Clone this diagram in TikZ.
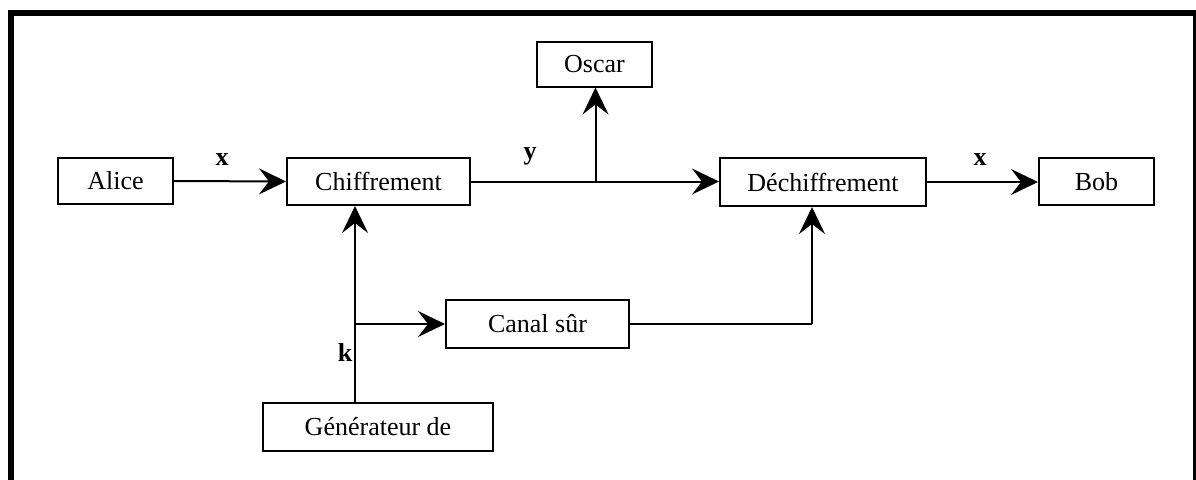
\documentclass[tikz,border=0pt]{standalone}
\usepackage{fontspec}
\setmainfont{Liberation Serif}
\usetikzlibrary{arrows.meta}
\begin{document}
\begin{tikzpicture}[x=1pt,y=-1pt,
  box/.style={draw,line width=2pt,rectangle,inner sep=0pt,font=\fontsize{26}{31}\selectfont},
  conn/.style={line width=2pt},
  arr/.style={line width=2pt,-{Stealth[length=27pt,width=26pt,inset=10pt]}},
  lbl/.style={font=\fontsize{26}{31}\selectfont\bfseries,inner sep=0pt}]
\useasboundingbox (0,0) rectangle (1196,479);
\begin{scope}
\clip (0,0) rectangle (1196,479);
\draw[line width=6pt] (11,500) -- (11,13) -- (1196,13) -- (1196,500);
\end{scope}
\node[box,minimum width=115pt,minimum height=46pt] (alice) at (115.5,181) {Alice};
\node[box,minimum width=183pt,minimum height=47pt] (chif) at (378.5,181.5) {Chiffrement};
\node[box,minimum width=115pt,minimum height=45pt] (oscar) at (594.5,64) {Oscar};
\node[box,minimum width=206pt,minimum height=48pt] (dech) at (823,182) {Déchiffrement};
\node[box,minimum width=115pt,minimum height=47pt] (bob) at (1096.5,181.5) {Bob};
\node[box,minimum width=183pt,minimum height=48pt] (canal) at (537.5,324) {Canal sûr};
\node[box,minimum width=230pt,minimum height=48pt] (gen) at (378,427) {Générateur de};
\coordinate (kx) at (355,0);
\coordinate (dx) at (812,0);
\coordinate (ox) at (595.5,0);
\coordinate (j1) at (ox |- chif.east);
\coordinate (j2) at (kx |- canal.west);
\coordinate (j3) at (dx |- canal.east);
\draw[arr] (alice.east) -- (chif.west);
\draw[arr] (chif.east) -- (chif.east -| dech.west);
\draw[arr] (j1) -- (ox |- oscar.south);
\draw[arr] (dech.east) -- (dech.east -| bob.west);
\draw[arr] (kx |- gen.north) -- (kx |- chif.south);
\draw[arr] (j2) -- (canal.west);
\draw[conn] (canal.east) -- (j3);
\draw[arr] (j3) -- (dx |- dech.south);
\node[lbl] (lx1) at (222,160) {x};
\node[lbl] (ly) at (530,156) {y};
\node[lbl] (lx2) at (980,160) {x};
\node[lbl] (lk) at (345,352) {k};
\end{tikzpicture}
\end{document}
